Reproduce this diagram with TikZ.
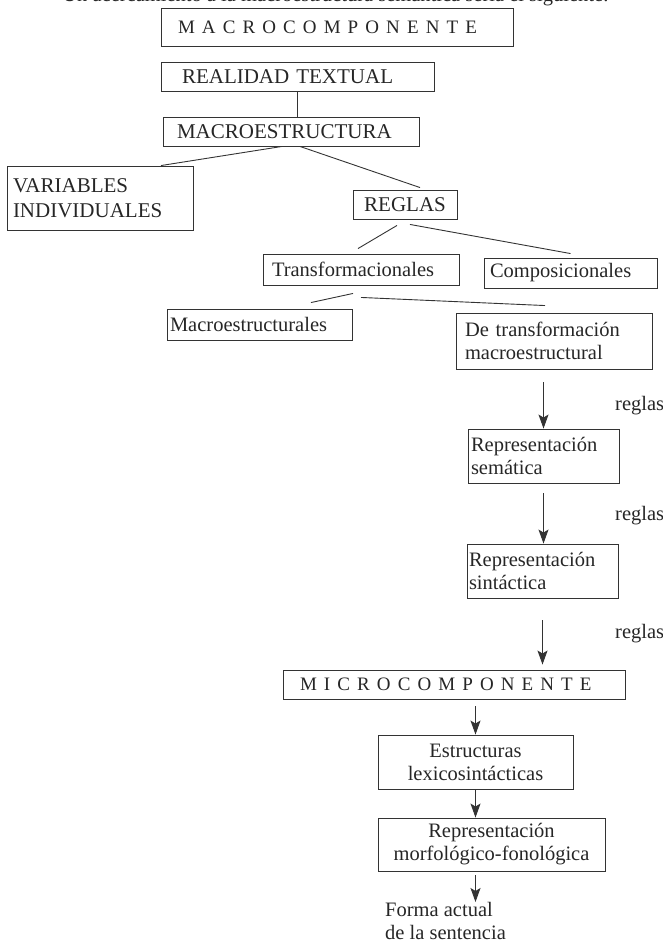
\documentclass[tikz,border=0pt]{standalone}
\usepackage{fontspec}
\setmainfont{Liberation Serif}
\usetikzlibrary{arrows.meta}

% letter-spaced capitals for the two component headings
\newdimen\trkgap \trkgap=7.1pt
\def\trk#1{\ifx#1\relax\else#1\kern\trkgap\expandafter\trk\fi}

\tikzset{
  ink/.style={draw=black!80, line width=0.9pt},
  box/.style={ink, inner sep=0pt, text=black!85, font=\fontsize{20.5}{23}\selectfont},
  capsbox/.style={box, font=\fontsize{21}{25}\selectfont},
  trackbox/.style={box, font=\fontsize{19}{22}\selectfont},
  link/.style={ink},
  arr/.style={ink, -{Stealth[length=14pt,width=10pt,inset=3pt]}},
  lbl/.style={text=black!85, inner sep=0pt, font=\fontsize{20.5}{23}\selectfont},
}

\begin{document}
\begin{tikzpicture}[x=1pt, y=-1pt]
\useasboundingbox (0,0) rectangle (663,947);

% line of running text above the scheme
\node[lbl, anchor=base east] (intro) at (609,2) {Un acercamiento a la macroestructura semántica sería el siguiente:};

% macro level
\node[trackbox, minimum width=352pt, minimum height=38pt, text width=318pt, align=left]
  (macro) at (337,27) {\trk MACROCOMPONENTE\relax};
\node[capsbox, minimum width=273pt, minimum height=29pt, text width=231pt, align=left]
  (realidad) at (297.5,76.5) {REALIDAD TEXTUAL};
\node[capsbox, minimum width=256pt, minimum height=29pt, text width=228pt, align=left]
  (macroe) at (291,131.5) {MACROESTRUCTURA};
\node[capsbox, minimum width=186pt, minimum height=64pt, text width=174pt, align=left]
  (variables) at (100,198) {VARIABLES\\INDIVIDUALES};
\node[capsbox, minimum width=104pt, minimum height=29pt, align=center]
  (regl) at (405,204.5) {REGLAS};
\node[box, minimum width=196pt, minimum height=31pt, text width=178pt, align=left]
  (trans) at (361,269.5) {Transformacionales};
\node[box, minimum width=173pt, minimum height=30pt, text width=161pt, align=left]
  (compos) at (570.5,273) {Composicionales};
\node[box, minimum width=185pt, minimum height=31pt, text width=179pt, align=left]
  (macroestr) at (259.5,324.5) {Macroestructurales};
\node[box, minimum width=196pt, minimum height=56pt, text width=178pt, align=left]
  (detrans) at (554,341) {De transformación\\macroestructural};
\node[box, minimum width=151pt, minimum height=54pt, text width=145pt, align=left]
  (sem) at (543.5,456) {Representación\\semática};
\node[box, minimum width=151pt, minimum height=54pt, text width=147pt, align=left]
  (sint) at (542.5,571) {Representación\\sintáctica};

% micro level
\node[trackbox, minimum width=342pt, minimum height=29pt, text width=308pt, align=left]
  (micro) at (454,684.5) {\trk MICROCOMPONENTE\relax};
\node[box, minimum width=195pt, minimum height=54pt, align=center]
  (estr) at (475.5,762) {Estructuras\\lexicosintácticas};
\node[box, minimum width=227pt, minimum height=53pt, align=center]
  (morf) at (491.5,844.5) {Representación\\morfológico-fonológica};
\node[lbl, anchor=north west, align=left] (forma) at (385,902) {Forma actual\\de la sentencia};

% rule labels beside the arrows
\node[lbl, anchor=base west] (r1) at (615,410) {reglas};
\node[lbl, anchor=base west] (r2) at (615,520) {reglas};
\node[lbl, anchor=base west] (r3) at (615,638) {reglas};

% tree connectors
\draw[link] (realidad.south) -- (realidad.south |- macroe.north);
\draw[link] ([xshift=-9pt]macroe.south) -- ([xshift=61pt]variables.north);
\draw[link] ([xshift=9pt]macroe.south) -- ([xshift=15pt,yshift=2pt]regl.north);
\draw[link] ([xshift=-8pt,yshift=-6pt]regl.south) -- ([xshift=-3pt,yshift=5pt]trans.north);
\draw[link] ([xshift=5pt,yshift=-5pt]regl.south) -- ([yshift=4pt]compos.north);
\draw[link] ([xshift=-8pt,yshift=-8pt]trans.south) -- ([xshift=51.5pt,yshift=6pt]macroestr.north);
\draw[link] ([yshift=-12pt]trans.south) -- ([xshift=-9pt,yshift=7pt]detrans.north);

% derivation arrows
\draw[arr, shorten <=13pt] (detrans.south -| sem.north) -- (sem.north);
\draw[arr, shorten <=10pt] (sem.south) -- (sem.south |- sint.north);
\draw[arr, shorten <=22pt, shorten >=5pt] (sint.south) -- (sint.south |- micro.north);
\draw[arr, shorten <=7pt] (micro.south -| estr.north) -- (estr.north);
\draw[arr] (estr.south) -- (estr.south |- morf.north);
\draw[arr, shorten <=4pt] (morf.south -| estr.south) -- (forma.north -| estr.south);
\end{tikzpicture}
\end{document}
